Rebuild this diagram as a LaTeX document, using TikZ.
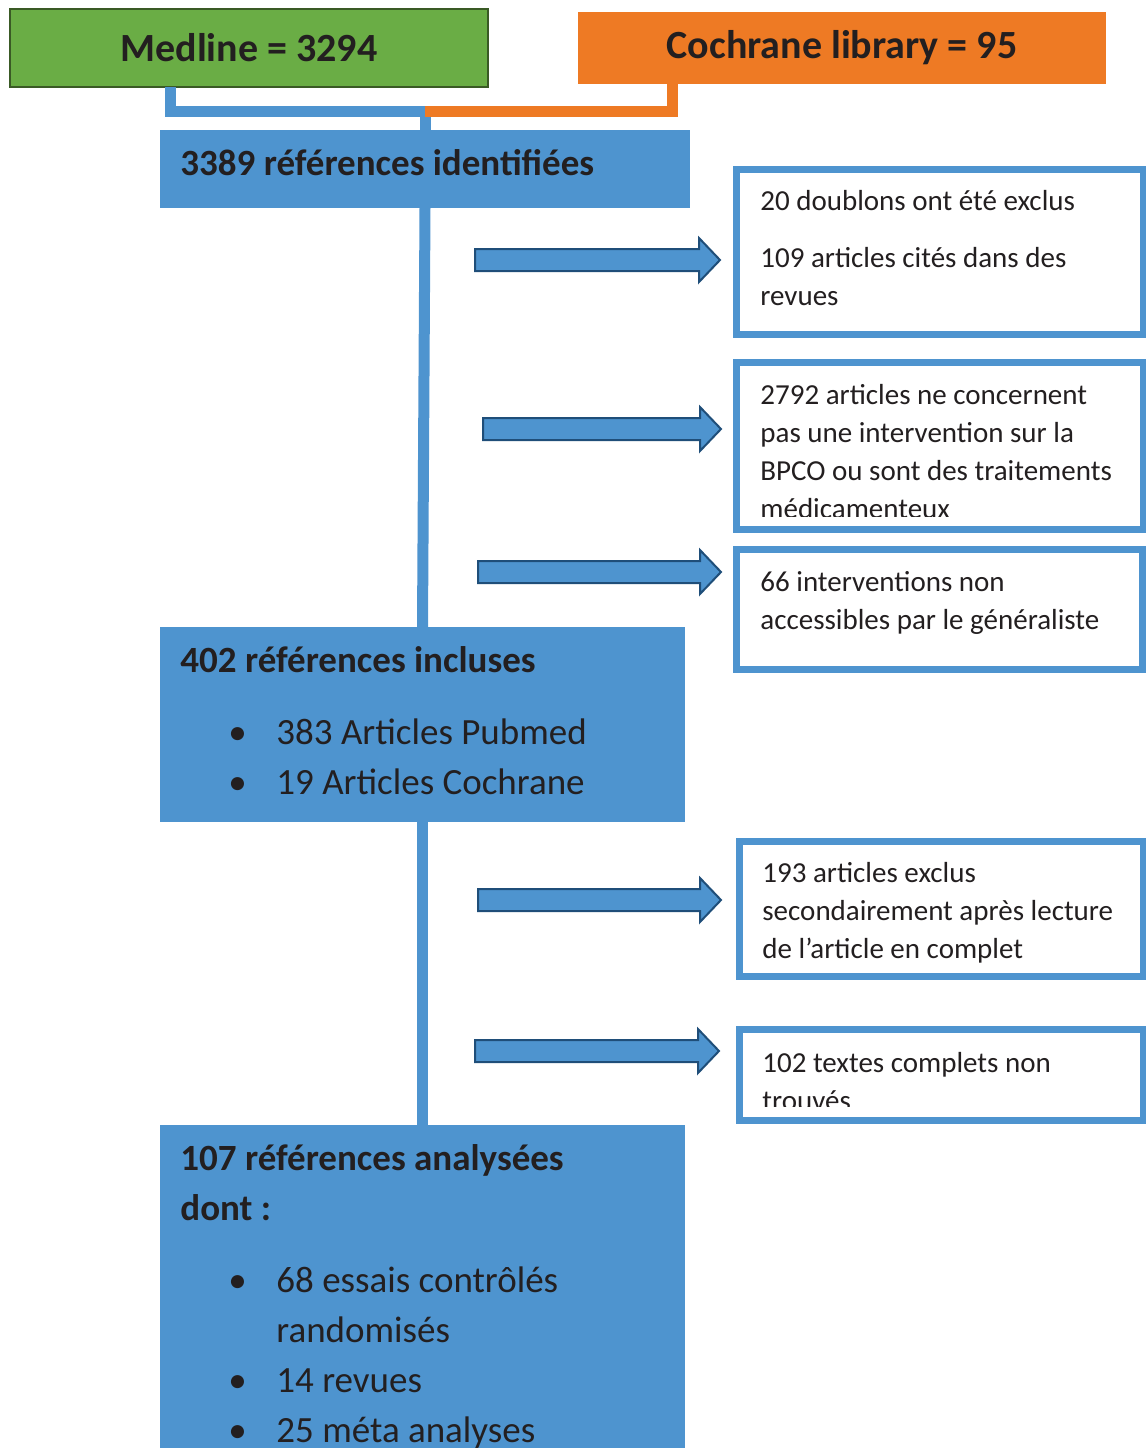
\documentclass[tikz,border=0pt]{standalone}
\usepackage{fontspec}
\setmainfont{Carlito}
\definecolor{bleu}{HTML}{4E94CF}
\definecolor{bleufonce}{HTML}{1F4E79}
\definecolor{vert}{HTML}{6AAD45}
\definecolor{vertfonce}{HTML}{3A5A25}
\definecolor{orangec}{HTML}{EE7A24}
\definecolor{texte}{HTML}{231F20}
\newcommand{\puce}{\hspace*{24pt}\makebox[24pt][l]{\textbullet}}
\newcommand{\lignes}[1]{\begin{tabular}[t]{@{}l@{}}#1\end{tabular}}
\newcommand{\flechebloc}[3]{\draw[fleche] (#1,#3-11) -- (#2-21,#3-11) -- (#2-21,#3-22) -- (#2,#3) -- (#2-21,#3+22) -- (#2-21,#3+11) -- (#1,#3+11) -- cycle;}
\begin{document}
\begin{tikzpicture}[x=0.5pt,y=-0.5pt,text=texte,
	boite/.style={rectangle,inner sep=0pt,outer sep=0pt},
	boitebleue/.style={boite,fill=bleu},
	boiteblanche/.style={boite,fill=white,draw=bleu,line width=3.5pt},
	titre/.style={font=\bfseries\fontsize{20}{24}\selectfont},
	grand/.style={anchor=base west,inner sep=0pt,font=\fontsize{18.5}{25}\selectfont},
	petit/.style={anchor=base west,inner sep=0pt,font=\fontsize{14.5}{19}\selectfont},
	lienbleu/.style={draw=bleu,line width=5.5pt},
	lienorange/.style={draw=orangec,line width=5.5pt},
	fleche/.style={fill=bleu,draw=bleufonce,line width=1pt,line join=miter}]
	\useasboundingbox (0,0) rectangle (1146,1448);

	\node[boite,fill=vert,draw=vertfonce,line width=1.2pt,minimum width=239pt,minimum height=39pt,titre] (med) at (249,48) {Medline = 3294};
	\node[boite,fill=orangec,minimum width=264pt,minimum height=36pt,titre] (coch) at (842,48) {Cochrane library = 95};
	\node[boitebleue,minimum width=265pt,minimum height=39pt] (ident) at (425,169) {};
	\node[boitebleue,minimum width=262.5pt,minimum height=97.5pt] (incl) at (422.5,724.5) {};
	\node[boitebleue,minimum width=262.5pt,minimum height=167.5pt] (analys) at (422.5,1292.5) {};

	\coordinate (mb) at (170,87);
	\coordinate (cb) at (672,84);
	\coordinate (jonction) at (425,111);
	\draw[lienbleu] (mb) |- (jonction) -- (ident.north);
	\draw[lienorange] (cb) |- (jonction);
	\draw[lienbleu] (ident.south) -- (incl.north);
	\draw[lienbleu] (incl.south) -- (analys.north);

	\node[grand,font=\bfseries\fontsize{18.5}{25}\selectfont] (t1) at (180,175) {3389 références identifiées};
	\node[grand] (t2) at (180,672) {\lignes{\textbf{402 références incluses}\\[11pt]
		\puce 383 Articles Pubmed\\
		\puce 19 Articles Cochrane}};
	\node[grand] (t3) at (180,1170) {\lignes{\textbf{107 références analysées}\\
		\textbf{dont :}\\[11pt]
		\puce 68 essais contrôlés\\
		\hspace*{48pt}randomisés\\
		\puce 14 revues\\
		\puce 25 méta analyses}};

	\node[boiteblanche,minimum width=203.5pt,minimum height=82.5pt] (r1) at (939.5,251.5) {};
	\node[boiteblanche,minimum width=203.5pt,minimum height=83.5pt] (r2) at (939.5,446) {};
	\node[boiteblanche,minimum width=203pt,minimum height=60pt] (r3) at (939,609) {};
	\node[boiteblanche,minimum width=202pt,minimum height=67.5pt] (r4) at (941,908.5) {};
	\node[boiteblanche,minimum width=202pt,minimum height=45.5pt] (r5) at (941,1074.5) {};

	\node[petit] (e1) at (760,210) {\lignes{20 doublons ont été exclus\\[9.5pt]
		109 articles cités dans des\\revues}};
	\begin{scope}
		\clip (736,362) rectangle (1143,516);
		\node[petit] (e2) at (760,404) {\lignes{2792 articles ne concernent\\pas une intervention sur la\\BPCO ou sont des traitements\\médicamenteux}};
	\end{scope}
	\node[petit] (e3) at (760,591) {\lignes{66 interventions non\\accessibles par le généraliste}};
	\node[petit] (e4) at (762,882) {\lignes{193 articles exclus\\secondairement après lecture\\de l’article en complet}};
	\begin{scope}
		\clip (739,1029) rectangle (1143,1106);
		\node[petit] (e5) at (762,1072) {\lignes{102 textes complets non\\trouvés}};
	\end{scope}

	\flechebloc{475}{720}{260}
	\flechebloc{483}{721}{429}
	\flechebloc{478}{721}{572}
	\flechebloc{478}{721}{900}
	\flechebloc{475}{719}{1051}
\end{tikzpicture}
\end{document}
